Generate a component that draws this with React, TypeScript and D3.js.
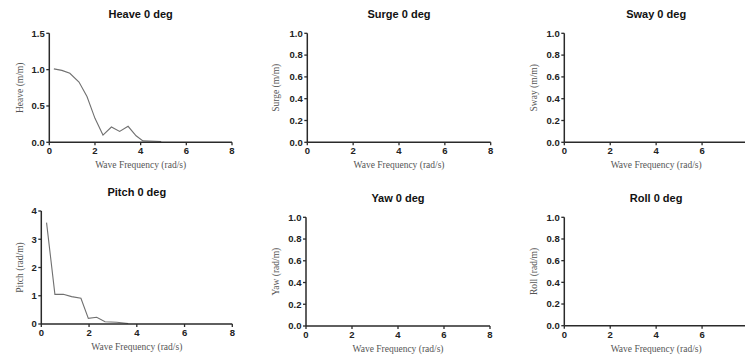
import React from "react";
import * as d3 from "d3";

// Response amplitude operators, 0 deg heading
const heaveFreq = [0.2, 0.55, 0.9, 1.3, 1.65, 2.0, 2.35, 2.72, 3.08, 3.45, 3.8, 4.1, 4.9];
const heaveAmp = [1.01, 0.99, 0.95, 0.83, 0.63, 0.33, 0.1, 0.21, 0.15, 0.22, 0.09, 0.02, 0.01];

const pitchFreq = [0.22, 0.57, 0.92, 1.27, 1.66, 1.97, 2.32, 2.67, 3.16, 3.64];
const pitchAmp = [3.59, 1.05, 1.05, 0.97, 0.91, 0.2, 0.24, 0.08, 0.06, 0.02];

const xTicks = [0, 2, 4, 6, 8];
const heaveTicks = [0, 0.5, 1.0, 1.5];
const pitchTicks = [0, 1, 2, 3, 4];
const unitTicks = [0, 0.2, 0.4, 0.6, 0.8, 1.0];

const titles = ["Heave 0 deg", "Surge 0 deg", "Sway 0 deg", "Pitch 0 deg", "Yaw 0 deg", "Roll 0 deg"];
const yLabels = ["Heave (m/m)", "Surge (m/m)", "Sway (m/m)", "Pitch (rad/m)", "Yaw (rad/m)", "Roll (rad/m)"];
const xLabel = "Wave Frequency (rad/s)";

const W = 745;
const H = 359;

type PanelProps = {
  x0: number; x1: number; y0: number; y1: number;
  yMax: number; yTicks: number[]; fmt: (v: number) => string;
  title: string; yLabel: string; yLabelX: number;
  freq?: number[]; amp?: number[];
};

function Panel(p: PanelProps) {
  const x = d3.scaleLinear().domain([0, 8]).range([p.x0, p.x1]);
  const y = d3.scaleLinear().domain([0, p.yMax]).range([p.y1, p.y0]);
  const line = d3.line<number>().x((_, i) => x(p.freq![i])).y((d) => y(d));
  const cx = (p.x0 + p.x1) / 2;
  const axisCol = "#2a2a2a";
  // ticks that fall past the drawing's right edge are left out
  const visibleX = xTicks.filter((t) => x(t) < W - 3);
  return (
    <g>
      <text x={cx} y={p.y0 - 15} textAnchor="middle" fontFamily="Liberation Sans, Arial, sans-serif" fontWeight="bold" fontSize={11} fill="#111">{p.title}</text>
      {p.freq && p.amp && (
        <path d={line(p.amp) || ""} fill="none" stroke="#707070" strokeWidth={1.1} />
      )}
      {/* y axis */}
      <line x1={p.x0} x2={p.x0} y1={p.y0} y2={p.y1} stroke={axisCol} strokeWidth={1.5} />
      {p.yTicks.map((t) => (
        <g key={t}>
          <line x1={p.x0 - 3} x2={p.x0} y1={y(t)} y2={y(t)} stroke={axisCol} strokeWidth={1.3} />
          <text x={p.x0 - 4.5} y={y(t)} dy="0.35em" textAnchor="end" fontFamily="Liberation Sans, Arial, sans-serif" fontWeight="bold" fontSize={9.5} fill="#222">{p.fmt(t)}</text>
        </g>
      ))}
      {/* x axis */}
      <line x1={p.x0} x2={p.x1} y1={p.y1} y2={p.y1} stroke={axisCol} strokeWidth={1.5} />
      {visibleX.map((t) => (
        <g key={t}>
          <line x1={x(t)} x2={x(t)} y1={p.y1} y2={p.y1 + 3} stroke={axisCol} strokeWidth={1.3} />
          <text x={x(t)} y={p.y1 + 12} textAnchor="middle" fontFamily="Liberation Sans, Arial, sans-serif" fontWeight="bold" fontSize={9.5} fill="#222">{t}</text>
        </g>
      ))}
      <text x={cx} y={p.y1 + 26} textAnchor="middle" fontFamily="Liberation Serif, Times New Roman, serif" fontSize={9.5} fill="#555">{xLabel}</text>
      <text transform={`translate(${p.yLabelX},${(p.y0 + p.y1) / 2}) rotate(-90)`} dy="0.35em" textAnchor="middle" fontFamily="Liberation Serif, Times New Roman, serif" fontSize={9.5} fill="#555">{p.yLabel}</text>
    </g>
  );
}

const f1 = (v: number) => v.toFixed(1);
const f0 = (v: number) => String(v);

export default function App() {
  return (
    <svg width={W} height={H} style={{ position: "absolute", left: 0, top: 0, background: "#fff" }}>
      <Panel x0={49.3} x1={232} y0={33.3} y1={142.3} yMax={1.5} yTicks={heaveTicks} fmt={f1} title={titles[0]} yLabel={yLabels[0]} yLabelX={20} freq={heaveFreq} amp={heaveAmp} />
      <Panel x0={307.3} x1={490.7} y0={33.3} y1={142.3} yMax={1} yTicks={unitTicks} fmt={f1} title={titles[1]} yLabel={yLabels[1]} yLabelX={276} />
      <Panel x0={564.3} x1={748} y0={33.3} y1={142.3} yMax={1} yTicks={unitTicks} fmt={f1} title={titles[2]} yLabel={yLabels[2]} yLabelX={534} />
      <Panel x0={41.3} x1={232.3} y0={211} y1={324} yMax={4} yTicks={pitchTicks} fmt={f0} title={titles[3]} yLabel={yLabels[3]} yLabelX={20} freq={pitchFreq} amp={pitchAmp} />
      <Panel x0={306} x1={490} y0={217.3} y1={326} yMax={1} yTicks={unitTicks} fmt={f1} title={titles[4]} yLabel={yLabels[4]} yLabelX={276} />
      <Panel x0={564.3} x1={748} y0={217.3} y1={325.7} yMax={1} yTicks={unitTicks} fmt={f1} title={titles[5]} yLabel={yLabels[5]} yLabelX={534} />
    </svg>
  );
}
